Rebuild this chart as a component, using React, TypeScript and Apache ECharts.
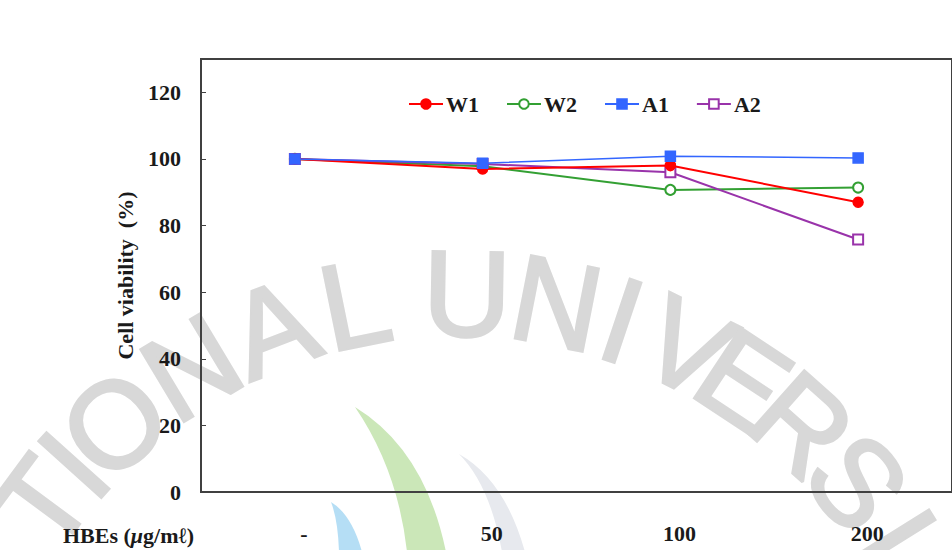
import React, { useEffect, useRef } from "react";
import * as echarts from "echarts";

// Concentrations of HBEs (µg/mℓ); "-" is the untreated control
const doses = ["-", "50", "100", "200"];

// Cell viability (%) per extract
const w1 = [100, 97.0, 98.0, 87.0];
const w2 = [100, 97.8, 90.7, 91.4];
const a1 = [100, 98.7, 100.8, 100.3];
const a2 = [100, 98.5, 96.0, 75.8];

const yTicks = [0, 20, 40, 60, 80, 100, 120];

const SERIF = "'Liberation Serif', 'Times New Roman', serif";
const FS = 22;

// Background seal lettering, laid out on an arc (angle in degrees from vertical)
const sealLetters: [string, number][] = [
  ["T", -53.5], ["I", -48], ["O", -41.6], ["N", -31], ["A", -21], ["L", -11.5],
  ["U", 1], ["N", 11], ["I", 18.5], ["V", 26.3], ["E", 33.5], ["R", 41.7], ["S", 50.5], ["I", 58],
];

let shapesReady = false;
function registerLeaves() {
  if (shapesReady) return;
  echarts.graphic.registerShape(
    "leafGreen",
    echarts.graphic.extendPath("M355 407 Q 425 450 446 552 L 407 552 Q 398 470 355 407 Z", {})
  );
  echarts.graphic.registerShape(
    "leafBlue",
    echarts.graphic.extendPath("M331 502 Q 352 515 362 552 L 339 552 Q 338 520 331 502 Z", {})
  );
  echarts.graphic.registerShape(
    "leafGrey",
    echarts.graphic.extendPath("M459 454 Q 505 480 525 552 L 502 552 Q 490 485 459 454 Z", {})
  );
  shapesReady = true;
}

export default function App() {
  const ref = useRef<HTMLDivElement>(null);

  useEffect(() => {
    if (!ref.current) return;
    registerLeaves();
    const chart = echarts.init(ref.current, undefined, { renderer: "svg" });

    const cx = 458;
    const cy = 811;
    const r = 517;
    const seal = sealLetters.map(([ch, deg]) => {
      const t = (deg * Math.PI) / 180;
      return {
        type: "text",
        x: cx + r * Math.sin(t),
        y: cy - r * Math.cos(t),
        rotation: -t,
        z: -10,
        silent: true,
        style: {
          text: ch,
          fill: "#d8d8d8",
          stroke: "#d8d8d8",
          lineWidth: 3,
          font: "normal 122px 'Liberation Sans', Arial, sans-serif",
          align: "center",
          verticalAlign: "middle",
        },
      };
    });

    const lineSeries = (name: string, data: number[], color: string, symbol: string, width: number, z: number) => ({
      name,
      type: "line",
      data,
      symbol,
      symbolSize: 10,
      z,
      lineStyle: { color, width },
      itemStyle: { color, borderColor: color, borderWidth: 1.5 },
      emphasis: { disabled: true },
    });

    const labelFont = { fontFamily: SERIF, fontWeight: "bold", fontSize: FS, color: "#1a1a1a" };

    chart.setOption({
      animation: false,
      backgroundColor: "#ffffff",
      grid: {
        left: 201,
        top: 59,
        width: 755,
        height: 433,
        show: true,
        borderColor: "#404040",
        borderWidth: 2,
        backgroundColor: "transparent",
      },
      legend: {
        data: ["W1", "W2", "A1", "A2"],
        left: 403,
        top: 88,
        itemWidth: 34,
        itemHeight: 12,
        itemGap: 27,
        textStyle: { ...labelFont, padding: [0, 0, 0, -2] },
      },
      xAxis: {
        type: "category",
        data: doses,
        boundaryGap: true,
        axisLine: { lineStyle: { color: "#404040", width: 2 } },
        axisTick: { inside: true, length: 4, lineStyle: { color: "#404040", width: 1 } },
        axisLabel: { ...labelFont, margin: 30, padding: [0, 0, 0, 18] },
      },
      yAxis: {
        type: "value",
        min: 0,
        max: 130,
        interval: 20,
        name: "Cell viability  (%)",
        nameLocation: "middle",
        nameGap: 65,
        nameTextStyle: labelFont,
        axisLine: { show: true, lineStyle: { color: "#404040", width: 2 } },
        axisTick: { show: true, inside: true, length: 5, lineStyle: { color: "#404040", width: 1 } },
        splitLine: { show: false },
        axisLabel: {
          ...labelFont,
          margin: 20,
          showMaxLabel: false,
          formatter: (v: number) => (yTicks.includes(v) ? String(v) : ""),
        },
      },
      graphic: [
        { type: "leafGreen", x: 0, y: 0, z: -10, silent: true, style: { fill: "#cbe7b8" } },
        { type: "leafBlue", x: 0, y: 0, z: -10, silent: true, style: { fill: "#b5def5" } },
        { type: "leafGrey", x: 0, y: 0, z: -10, silent: true, style: { fill: "#e7e9ee" } },
        ...seal,
        {
          type: "text",
          x: 63,
          y: 535,
          style: {
            text: "{b|HBEs (}{i|μ}{b|g/mℓ)}",
            verticalAlign: "middle",
            rich: {
              b: { fontFamily: SERIF, fontWeight: "bold", fontSize: FS, fill: "#1a1a1a" },
              i: { fontFamily: SERIF, fontWeight: "bold", fontStyle: "italic", fontSize: FS, fill: "#1a1a1a" },
            },
          },
        },
      ],
      series: [
        lineSeries("W2", w2, "#33a033", "emptyCircle", 2, 2),
        lineSeries("A2", a2, "#9933aa", "emptyRect", 2, 3),
        lineSeries("W1", w1, "#ff0000", "circle", 2, 4),
        lineSeries("A1", a1, "#3366ff", "rect", 1.5, 5),
      ],
    });

    return () => chart.dispose();
  }, []);

  return (
    <div
      ref={ref}
      style={{ position: "fixed", left: 0, top: 0, width: 952, height: 550, background: "#fff" }}
    />
  );
}
